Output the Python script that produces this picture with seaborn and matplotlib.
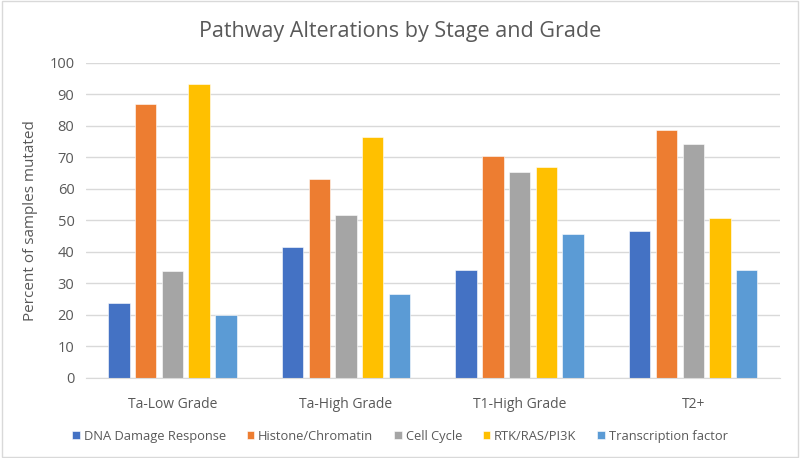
import pandas as pd
import matplotlib.pyplot as plt
import seaborn as sns

stages = ["Ta-Low Grade", "Ta-High Grade", "T1-High Grade", "T2+"]
pathways = ["DNA Damage Response", "Histone/Chromatin", "Cell Cycle",
            "RTK/RAS/PI3K", "Transcription factor"]
dna_damage = [23.6, 41.5, 34.3, 46.7]
histone = [87.0, 63.2, 70.3, 78.5]
cell_cycle = [33.8, 51.6, 65.4, 74.3]
rtk_ras = [93.3, 76.5, 67.0, 50.8]
transcription = [20.0, 26.6, 45.7, 34.3]
colors = ["#4472C4", "#ED7D31", "#A5A5A5", "#FFC000", "#5B9BD5"]

series = [dna_damage, histone, cell_cycle, rtk_ras, transcription]
rows = []
for name, vals in zip(pathways, series):
    for stage, v in zip(stages, vals):
        rows.append({"stage": stage, "pathway": name, "value": v})
df = pd.DataFrame(rows)

sns.set_style("white")
plt.rcParams["font.family"] = ["Open Sans", "DejaVu Sans"]

fig = plt.figure(figsize=(8, 4.58), dpi=100)
ax = fig.add_axes([0.107, 0.175, 0.868, 0.688])

sns.barplot(data=df, x="stage", y="value", hue="pathway", hue_order=pathways,
            palette=colors, width=0.77, gap=0.2, saturation=1, ax=ax,
            edgecolor="white", linewidth=0.4)

ax.set_ylim(0, 100)
ax.set_yticks(range(0, 101, 10))
ax.yaxis.grid(True, color="#D9D9D9", linewidth=1)
ax.set_axisbelow(True)
for s in ["top", "right", "left"]:
    ax.spines[s].set_visible(False)
ax.spines["bottom"].set_color("#D9D9D9")
ax.tick_params(axis="both", length=0, labelsize=10.5, colors="#595959", pad=8)
ax.tick_params(axis="x", labelsize=10, pad=14)
ax.set_xlabel("")
ax.set_ylabel("Percent of samples mutated", fontsize=11, color="#595959", labelpad=8)

fig.suptitle("Pathway Alterations by Stage and Grade", fontsize=15.5,
             color="#595959", y=0.955)

handles, labels = ax.get_legend_handles_labels()
ax.legend_.remove()
fig.legend(handles, labels, loc="lower center", ncol=5, frameon=False,
           bbox_to_anchor=(0.5, 0.008), fontsize=9.3, handlelength=0.6,
           handleheight=0.6, handletextpad=0.3, columnspacing=1.6,
           labelcolor="#595959")

border = plt.Rectangle((0.002, 0.003), 0.996, 0.994, transform=fig.transFigure,
                       fill=False, edgecolor="#D9D9D9", linewidth=1)
fig.patches.append(border)

fig.savefig("out.png", dpi=100)
